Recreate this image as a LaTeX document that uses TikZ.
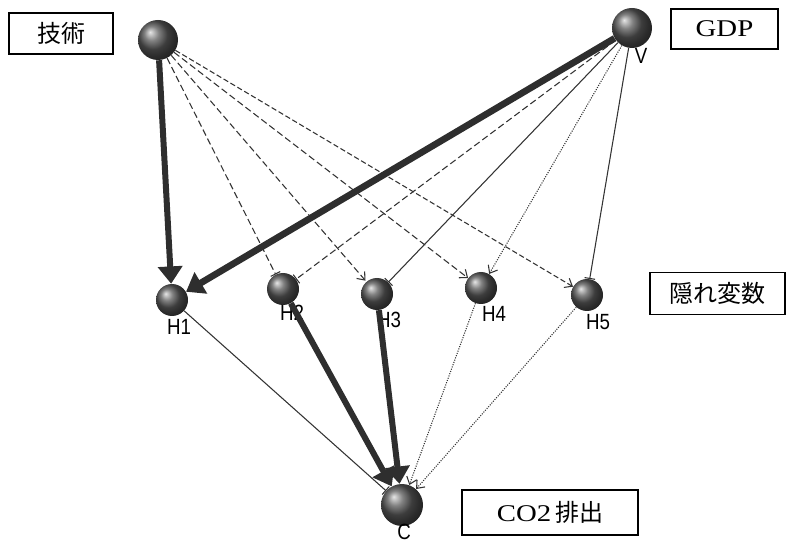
\documentclass[tikz,border=0pt]{standalone}
\usepackage{fontspec}
\setmainfont{Liberation Serif}
\newfontfamily\cjk{Noto Sans CJK JP}
\newfontfamily\wideserif[FakeStretch=1.2]{Liberation Serif}
\newfontfamily\narrowsans[FakeStretch=0.85]{Liberation Sans}
\usetikzlibrary{arrows.meta}
\tikzset{
  ball/.style={circle, shading=ball, ball color=black!66, inner sep=0pt},
  bigball/.style={ball, minimum size=30pt},
  smallball/.style={ball, minimum size=24pt},
  strong/.style={line width=4.5pt, draw=black!82, -{Triangle[length=13pt,width=18pt]}},
  weak/.style={line width=0.8pt, draw=black!80, -{Straight Barb[length=5pt,width=8pt]}},
  blocked/.style={line width=0.8pt, draw=black!80, -{Bar[width=8pt]}},
  longdash/.style={dash pattern=on 5pt off 2.5pt},
  fine/.style={densely dotted},
  lbl/.style={font=\narrowsans\fontsize{16.5}{17}\selectfont, inner sep=0pt},
  tag/.style={draw, line width=1.1pt, inner sep=0pt},
  latin/.style={font=\wideserif\fontsize{18}{20}\selectfont},
  cjktext/.style={font=\cjk\fontsize{18}{20}\selectfont},
}
\begin{document}
\begin{tikzpicture}[x=0.75pt, y=-0.75pt]
\useasboundingbox (0,0) rectangle (789,545);

% caption boxes
\node[tag, cjktext, minimum width=78pt, minimum height=30.75pt] (tagT) at (61,33.5) {技術};
\node[tag, latin, minimum width=80.25pt, minimum height=30pt] (tagV) at (724.5,29) {GDP};
\node[tag, cjktext, minimum width=101pt, minimum height=31.5pt] (tagH) at (717.5,293.5) {隠れ変数};
\node[tag, latin, minimum width=132pt, minimum height=33.75pt] (tagC) at (550,512.5)
  {CO2\,{\cjk\fontsize{18}{20}\selectfont 排出}};

% variables
\node[bigball] (T) at (158,40) {};
\node[bigball] (V) at (632,28) {};
\node[smallball] (H1) at (172,300) {};
\node[smallball] (H2) at (283,289) {};
\node[smallball] (H3) at (377,294) {};
\node[smallball] (H4) at (481,288) {};
\node[smallball] (H5) at (587,295) {};
\node[ball, minimum size=31.5pt] (C) at (402,505) {};

% variable names
\node[lbl] (lV) at (641,56) {V};
\node[lbl] (l1) at (179,327) {H1};
\node[lbl] (l2) at (292,313) {H2};
\node[lbl] (l3) at (389,320) {H3};
\node[lbl] (l4) at (494,314) {H4};
\node[lbl] (l5) at (598,322) {H5};
\node[lbl] (lC) at (404,532) {C};

% edges from the technology node
\draw[weak, longdash, shorten >=1pt] (T) -- (H3);
\draw[weak, longdash] (T) -- (H4);
\draw[weak, dash pattern=on 4pt off 2pt] (T) -- (H5);
\draw[blocked, longdash] (T) -- (H2);
\draw[strong] (T) -- (H1);

% edges from the GDP node
\draw[blocked, longdash] (V) -- (H2);
\draw[blocked] (V) -- (H3);
\draw[weak, fine] (V) -- (H4);
\draw[blocked] (V) -- (H5);
\draw[strong, line width=5pt] (V) -- (H1);

% edges into the emission node
\draw[blocked] (H1) -- (C);
\draw[weak, fine] (H4) -- (C);
\draw[weak, fine] (H5) -- (C);
\draw[strong] (H2) -- (C);
\draw[strong] (H3) -- (C);
\end{tikzpicture}
\end{document}
